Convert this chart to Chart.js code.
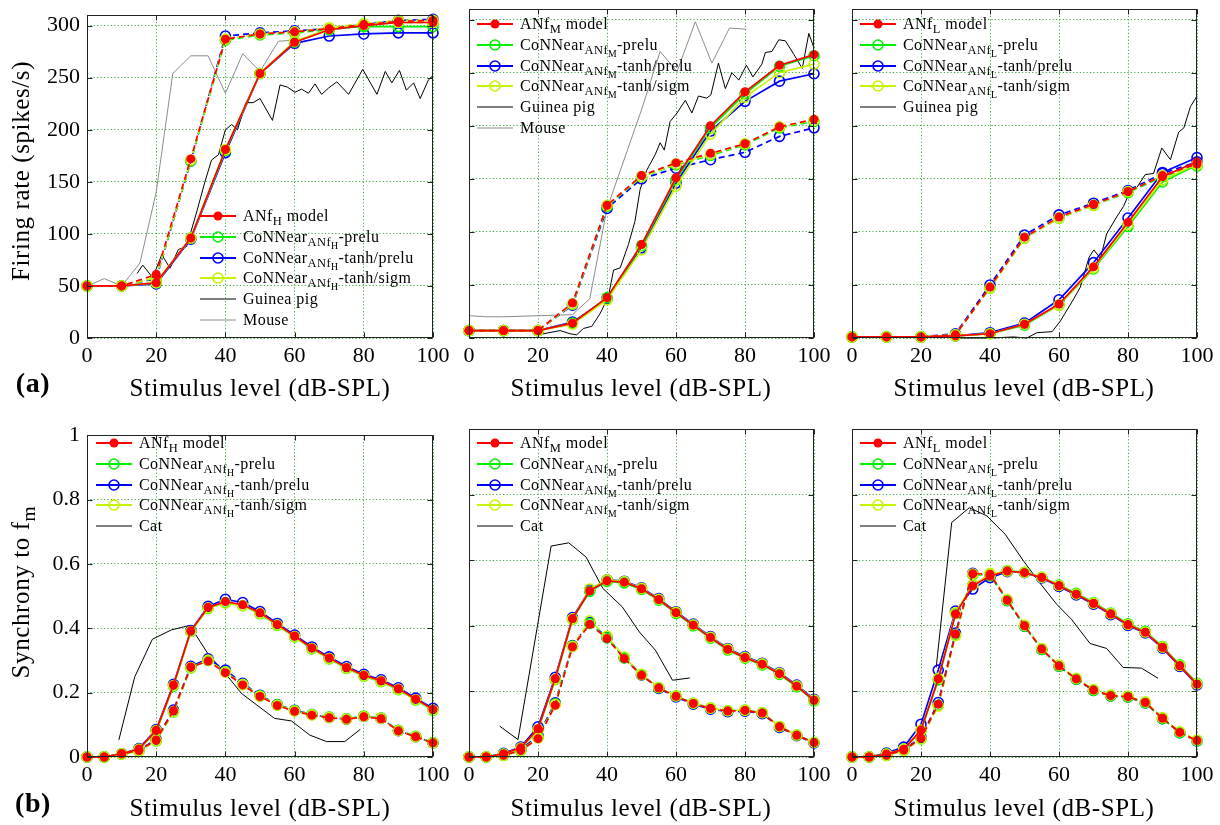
<!DOCTYPE html>
<html>
<head>
<meta charset="utf-8">
<script src="https://cdn.jsdelivr.net/npm/chart.js@4.4.0/dist/chart.umd.min.js"></script>
<style>
body { margin:0; width:1220px; height:825px; overflow:hidden; background:#fff; position:relative; font-family:'Liberation Serif', serif; color:#000; }
canvas { position:absolute; }
.t { position:absolute; white-space:nowrap; font-size:25px; letter-spacing:0.6px; }
.lg { position:absolute; font-size:16px; letter-spacing:0.45px; }
.lg div { height:20.8px; display:flex; align-items:center; white-space:nowrap; }
.lg svg { margin-right:7px; flex:none; }
sub { font-size:0.78em; vertical-align:-0.32em; line-height:0; }
</style>
</head>
<body>
<script>
// stimulus levels
const levelsRate = [0, 10, 20, 30, 40, 50, 60, 70, 80, 90, 100];
const levelsSync = [0, 5, 10, 15, 20, 25, 30, 35, 40, 45, 50, 55, 60, 65, 70, 75, 80, 85, 90, 95, 100];
const levelTicks = [0, 20, 40, 60, 80, 100];
const rateTicks = [0, 50, 100, 150, 200, 250, 300];
const syncTicks = [0, 0.2, 0.4, 0.6, 0.8, 1];

// (a) rate-level, ANfH  (solid / dashed)
const rateH_model = [50, 50, 53, 96, 181, 254, 284, 296, 300, 303, 303];
const rateH_prelu = [50, 50, 53, 96, 180, 254, 284, 297, 299, 299, 299];
const rateH_tanhPrelu = [50, 50, 52, 95, 178, 254, 283, 290, 292, 293, 293];
const rateH_tanhSigm = [50, 50, 53, 96, 181, 254, 285, 297, 301, 303, 303];
const rateH_model_d = [50, 50, 61, 172, 287, 292, 294, 297, 301, 304, 305];
const rateH_prelu_d = [50, 50, 58, 170, 286, 291, 293, 296, 300, 303, 303];
const rateH_tanhPrelu_d = [50, 50, 57, 170, 290, 293, 295, 297, 301, 305, 306];
const rateH_tanhSigm_d = [50, 50, 58, 171, 287, 292, 294, 298, 302, 305, 305];
const gpH_x = [14.5, 16.1, 19, 21.6, 24, 26.4, 28.8, 31.7, 34, 36, 38, 40, 41.8, 43.5, 45.9, 48, 50, 53.6, 55.8, 57.9, 60.1, 62, 64, 65.9, 67.8, 69.8, 72.2, 75.6, 79.7, 83.8, 86.2, 88.1, 90.3, 92.3, 94.4, 96.3, 98.7, 100];
const gpH_y = [62, 70, 58, 80, 67, 85, 88, 121, 149, 171, 176, 200, 205, 200, 226, 226, 230, 209, 243, 241, 236, 239, 235, 244, 234, 240, 246, 234, 258, 234, 256, 245, 257, 238, 245, 230, 248, 252];
const mouseH_x = [0, 5, 10, 15.3, 20, 24.8, 30, 35, 40, 45, 50, 55.3, 60];
const mouseH_y = [50, 57, 50, 72, 140, 254, 271, 271, 235, 273, 256, 285, 286];

// (a) rate-level, ANfM
const rateM_model = [7, 7, 7, 14, 38, 88, 151, 200, 232, 257, 267];
const rateM_prelu = [7, 7, 7, 14, 38, 87, 149, 198, 230, 256, 266];
const rateM_tanhPrelu = [7, 7, 7, 15, 37, 85, 146, 195, 223, 242, 249];
const rateM_tanhSigm = [7, 7, 7, 13, 36, 83, 143, 192, 227, 250, 258];
const rateM_model_d = [7, 7, 7, 33, 125, 153, 165, 174, 183, 199, 206];
const rateM_prelu_d = [7, 7, 7, 32, 124, 152, 163, 172, 182, 198, 204];
const rateM_tanhPrelu_d = [7, 7, 7, 31, 122, 150, 160, 168, 175, 190, 198];
const rateM_tanhSigm_d = [7, 7, 7, 32, 125, 152, 164, 173, 183, 199, 205];
const gpM_x = [20, 26.4, 29.3, 31.2, 33.2, 35.6, 38, 40.4, 41.9, 43.8, 46.2, 48.1, 49.6, 51.5, 54, 55.4, 56.6, 58.3, 60.3, 62.7, 64.6, 66.5, 68.9, 70.1, 72.3, 74.3, 76.2, 78.2, 80.4, 82.3, 84.9, 85.9, 87.8, 89.8, 91.7, 94.2, 96.6, 98.5, 100];
const gpM_y = [3, 7, 4, 3, 9, 11, 23, 39, 64, 66, 88, 110, 140, 158, 173, 184, 177, 204, 212, 224, 212, 228, 226, 229, 259, 235, 250, 243, 257, 246, 258, 269, 270, 281, 280, 267, 254, 287, 273];
const mouseM_x = [0, 5, 10, 20, 30, 35, 40, 50, 55.4, 60.3, 65.6, 70.4, 75.5, 80.4];
const mouseM_y = [21, 20, 20, 21, 22, 37, 122, 215, 270, 251, 298, 259, 292, 291];

// (a) rate-level, ANfL
const rateL_model = [1, 1, 1, 2, 4, 13, 32, 67, 109, 152, 166];
const rateL_prelu = [1, 1, 1, 2, 4, 12, 31, 65, 105, 147, 163];
const rateL_tanhPrelu = [1, 1, 1, 2, 5, 14, 36, 71, 113, 156, 170];
const rateL_tanhSigm = [1, 1, 1, 2, 4, 13, 31, 66, 107, 149, 164];
const rateL_model_d = [1, 1, 1, 3, 48, 95, 114, 126, 138, 153, 164];
const rateL_prelu_d = [1, 1, 1, 3, 47, 94, 113, 125, 137, 152, 162];
const rateL_tanhPrelu_d = [1, 1, 1, 4, 50, 97, 116, 127, 139, 155, 166];
const rateL_tanhSigm_d = [1, 1, 1, 3, 47, 94, 113, 125, 138, 153, 163];
const gpL_x = [30, 40, 46.8, 50.7, 53.6, 58, 60.4, 64.3, 66.2, 68.7, 70.1, 72, 73.8, 76.7, 78.7, 80.7, 82.6, 85, 87.4, 89.8, 92.3, 94.7, 96.2, 98.1, 100];
const gpL_y = [0, 0, 1, 0, 5, 6, 16, 37, 48, 76, 83, 75, 98, 114, 124, 139, 142, 154, 155, 179, 168, 194, 198, 218, 228];

// (b) synchrony, ANfH
const syncH_model = [0, 0, 0.01, 0.025, 0.083, 0.224, 0.392, 0.465, 0.483, 0.473, 0.448, 0.412, 0.376, 0.339, 0.308, 0.278, 0.254, 0.237, 0.212, 0.180, 0.148];
const syncH_prelu = [0, 0, 0.01, 0.024, 0.080, 0.220, 0.390, 0.462, 0.480, 0.470, 0.445, 0.409, 0.373, 0.336, 0.305, 0.275, 0.251, 0.234, 0.209, 0.177, 0.145];
const syncH_tanhPrelu = [0, 0, 0.01, 0.026, 0.085, 0.226, 0.393, 0.468, 0.490, 0.480, 0.452, 0.415, 0.379, 0.342, 0.311, 0.281, 0.257, 0.240, 0.215, 0.183, 0.151];
const syncH_tanhSigm = [0, 0, 0.01, 0.024, 0.082, 0.222, 0.390, 0.463, 0.478, 0.470, 0.446, 0.410, 0.374, 0.337, 0.306, 0.276, 0.252, 0.235, 0.210, 0.178, 0.146];
const syncH_model_d = [0, 0, 0.01, 0.020, 0.053, 0.144, 0.280, 0.298, 0.262, 0.224, 0.188, 0.160, 0.142, 0.130, 0.122, 0.117, 0.125, 0.119, 0.081, 0.063, 0.044];
const syncH_prelu_d = [0, 0, 0.009, 0.019, 0.050, 0.140, 0.277, 0.300, 0.265, 0.226, 0.190, 0.162, 0.144, 0.132, 0.124, 0.119, 0.127, 0.121, 0.083, 0.064, 0.045];
const syncH_tanhPrelu_d = [0, 0, 0.01, 0.021, 0.055, 0.146, 0.282, 0.305, 0.270, 0.229, 0.192, 0.163, 0.145, 0.132, 0.123, 0.118, 0.126, 0.120, 0.082, 0.063, 0.044];
const syncH_tanhSigm_d = [0, 0, 0.009, 0.019, 0.051, 0.141, 0.278, 0.301, 0.264, 0.225, 0.189, 0.161, 0.143, 0.131, 0.123, 0.118, 0.126, 0.120, 0.082, 0.063, 0.044];
const catH_x = [9.2, 13.8, 18.9, 24.4, 29.7, 35, 39.8, 44.6, 48.9, 54.2, 59.1, 64.4, 69.2, 74.5, 79];
const catH_y = [0.053, 0.249, 0.366, 0.395, 0.409, 0.32, 0.262, 0.198, 0.163, 0.12, 0.112, 0.068, 0.048, 0.048, 0.086];

// (b) synchrony, ANfM
const syncM_model = [0, 0, 0.01, 0.028, 0.086, 0.239, 0.422, 0.507, 0.537, 0.533, 0.513, 0.480, 0.440, 0.402, 0.364, 0.328, 0.303, 0.283, 0.254, 0.216, 0.173];
const syncM_prelu = [0, 0, 0.009, 0.026, 0.083, 0.236, 0.420, 0.505, 0.535, 0.531, 0.511, 0.478, 0.438, 0.400, 0.362, 0.326, 0.301, 0.281, 0.252, 0.214, 0.171];
const syncM_tanhPrelu = [0, 0, 0.011, 0.030, 0.092, 0.243, 0.425, 0.510, 0.540, 0.536, 0.516, 0.483, 0.443, 0.405, 0.367, 0.331, 0.306, 0.286, 0.257, 0.219, 0.176];
const syncM_tanhSigm = [0, 0, 0.009, 0.027, 0.084, 0.237, 0.421, 0.512, 0.540, 0.535, 0.514, 0.481, 0.441, 0.403, 0.365, 0.329, 0.304, 0.284, 0.255, 0.217, 0.174];
const syncM_model_d = [0, 0, 0.005, 0.020, 0.056, 0.158, 0.336, 0.405, 0.361, 0.300, 0.249, 0.210, 0.185, 0.163, 0.148, 0.140, 0.142, 0.134, 0.092, 0.066, 0.044];
const syncM_prelu_d = [0, 0, 0.005, 0.019, 0.060, 0.162, 0.338, 0.407, 0.363, 0.302, 0.251, 0.211, 0.186, 0.164, 0.149, 0.141, 0.143, 0.135, 0.093, 0.067, 0.045];
const syncM_tanhPrelu_d = [0, 0, 0.006, 0.021, 0.066, 0.165, 0.340, 0.410, 0.365, 0.303, 0.250, 0.209, 0.183, 0.161, 0.146, 0.138, 0.140, 0.132, 0.090, 0.065, 0.043];
const syncM_tanhSigm_d = [0, 0, 0.005, 0.020, 0.058, 0.160, 0.337, 0.415, 0.368, 0.305, 0.252, 0.212, 0.186, 0.164, 0.149, 0.141, 0.143, 0.135, 0.093, 0.067, 0.045];
const catM_x = [8.9, 14.2, 23.8, 28.9, 33.9, 38.8, 44.4, 49.4, 54, 59, 64];
const catM_y = [0.094, 0.053, 0.643, 0.653, 0.61, 0.514, 0.458, 0.381, 0.326, 0.234, 0.241];

// (b) synchrony, ANfL
const syncL_model = [0, 0, 0.009, 0.024, 0.082, 0.238, 0.436, 0.522, 0.552, 0.567, 0.562, 0.547, 0.522, 0.496, 0.468, 0.436, 0.403, 0.380, 0.334, 0.278, 0.222];
const syncL_prelu = [0, 0, 0.009, 0.024, 0.080, 0.235, 0.438, 0.525, 0.553, 0.568, 0.563, 0.548, 0.524, 0.499, 0.471, 0.439, 0.406, 0.383, 0.337, 0.281, 0.225];
const syncL_tanhPrelu = [0, 0, 0.012, 0.030, 0.100, 0.265, 0.445, 0.512, 0.547, 0.565, 0.562, 0.546, 0.520, 0.494, 0.466, 0.434, 0.401, 0.378, 0.332, 0.276, 0.220];
const syncL_tanhSigm = [0, 0, 0.009, 0.024, 0.082, 0.240, 0.440, 0.525, 0.556, 0.567, 0.563, 0.548, 0.523, 0.497, 0.469, 0.437, 0.404, 0.381, 0.335, 0.279, 0.223];
const syncL_model_d = [0, 0, 0.005, 0.021, 0.057, 0.161, 0.375, 0.559, 0.557, 0.478, 0.400, 0.329, 0.278, 0.238, 0.204, 0.187, 0.184, 0.166, 0.118, 0.075, 0.050];
const syncL_prelu_d = [0, 0, 0.005, 0.020, 0.055, 0.158, 0.372, 0.556, 0.555, 0.477, 0.399, 0.328, 0.277, 0.237, 0.203, 0.186, 0.183, 0.165, 0.117, 0.074, 0.049];
const syncL_tanhPrelu_d = [0, 0, 0.006, 0.022, 0.060, 0.166, 0.378, 0.560, 0.556, 0.477, 0.399, 0.328, 0.277, 0.237, 0.203, 0.186, 0.183, 0.165, 0.117, 0.074, 0.049];
const syncL_tanhSigm_d = [0, 0, 0.005, 0.020, 0.055, 0.155, 0.370, 0.558, 0.560, 0.480, 0.402, 0.331, 0.280, 0.240, 0.206, 0.189, 0.186, 0.168, 0.120, 0.077, 0.052];
const catL_x = [24.4, 28.9, 34, 39.1, 44.4, 49.7, 54.5, 59.3, 63.6, 69, 73.8, 78.6, 83.9, 88.7];
const catL_y = [0.273, 0.715, 0.76, 0.735, 0.679, 0.598, 0.53, 0.466, 0.42, 0.346, 0.331, 0.273, 0.271, 0.24];

// legend texts
const namesH = ['ANf<sub>H</sub> model', 'CoNNear<sub>ANf<sub>H</sub></sub>-prelu', 'CoNNear<sub>ANf<sub>H</sub></sub>-tanh/prelu', 'CoNNear<sub>ANf<sub>H</sub></sub>-tanh/sigm'];
const namesM = ['ANf<sub>M</sub> model', 'CoNNear<sub>ANf<sub>M</sub></sub>-prelu', 'CoNNear<sub>ANf<sub>M</sub></sub>-tanh/prelu', 'CoNNear<sub>ANf<sub>M</sub></sub>-tanh/sigm'];
const namesL = ['ANf<sub>L</sub> model', 'CoNNear<sub>ANf<sub>L</sub></sub>-prelu', 'CoNNear<sub>ANf<sub>L</sub></sub>-tanh/prelu', 'CoNNear<sub>ANf<sub>L</sub></sub>-tanh/sigm'];

const RED = '#ff0000', GREEN = '#00f000', BLUE = '#0000ff', LIME = '#c4f500';
const GRIDC = 'rgb(70,170,70)';
const GRAY = '#8c8c8c';

function pts(xs, ys) {
    return xs.map((x, i) => ({ x: x, y: ys[i] }));
}

function modelLine(xs, ys, color, dashed, filled) {
    return {
        data: pts(xs, ys),
        borderColor: color,
        borderWidth: 1.7,
        borderDash: dashed ? [6, 4] : [],
        pointRadius: filled ? 4.5 : 5,
        pointBorderWidth: filled ? 0 : 1.6,
        pointBorderColor: color,
        pointBackgroundColor: filled ? color : 'rgba(0,0,0,0)',
        clip: false
    };
}

function refLine(xs, ys, color) {
    return { data: pts(xs, ys), borderColor: color, borderWidth: 1, pointRadius: 0, clip: false };
}

// frame + inner tick marks
const framePlugin = {
    id: 'frame',
    afterDraw(c) {
        const a = c.chartArea, ctx = c.ctx;
        const l = Math.round(a.left) + 0.5, r = Math.round(a.right) - 0.5;
        const t = Math.round(a.top) + 0.5, b = Math.round(a.bottom) - 0.5;
        ctx.save();
        ctx.strokeStyle = '#222';
        ctx.lineWidth = 1;
        ctx.strokeRect(l, t, r - l, b - t);
        ctx.beginPath();
        c.scales.x.ticks.forEach(tk => {
            const x = Math.round(c.scales.x.getPixelForValue(tk.value)) + 0.5;
            ctx.moveTo(x, b); ctx.lineTo(x, b - 5);
            ctx.moveTo(x, t); ctx.lineTo(x, t + 5);
        });
        c.scales.y.ticks.forEach(tk => {
            const y = Math.round(c.scales.y.getPixelForValue(tk.value)) + 0.5;
            ctx.moveTo(l, y); ctx.lineTo(l + 5, y);
            ctx.moveTo(r, y); ctx.lineTo(r - 5, y);
        });
        ctx.stroke();
        ctx.restore();
    }
};

function makePanel(box, yMax, yTicks, showY, datasets) {
    const L = showY ? 70 : 20, T = 14, R = 22, B = 40;
    const w = box.r - box.l + L + R, h = box.b - box.t + T + B;
    const cv = document.createElement('canvas');
    cv.width = w; cv.height = h;
    cv.style.width = w + 'px'; cv.style.height = h + 'px';
    cv.style.left = (box.l - L) + 'px'; cv.style.top = (box.t - T) + 'px';
    document.body.appendChild(cv);
    const tickFont = { family: "'Liberation Serif', serif", size: 22 };
    new Chart(cv, {
        type: 'line',
        data: { datasets: datasets },
        options: {
            responsive: false,
            animation: false,
            events: [],
            layout: { padding: { left: 0, top: T, right: R, bottom: 0 } },
            plugins: { legend: { display: false }, tooltip: { enabled: false } },
            elements: { line: { tension: 0 } },
            scales: {
                x: {
                    type: 'linear', min: 0, max: 100,
                    afterFit(s) { s.height = B; },
                    afterBuildTicks(s) { s.ticks = levelTicks.map(v => ({ value: v })); },
                    grid: { color: GRIDC, drawTicks: false, lineWidth: 1 },
                    border: { display: false, dash: [1.2, 2.2] },
                    ticks: { padding: 5, color: '#000', font: tickFont, maxRotation: 0, callback: v => String(v) }
                },
                y: {
                    type: 'linear', min: 0, max: yMax,
                    afterFit(s) { s.width = L; },
                    afterBuildTicks(s) { s.ticks = yTicks.map(v => ({ value: v })); },
                    grid: { color: GRIDC, drawTicks: false, lineWidth: 1 },
                    border: { display: false, dash: [1.2, 2.2] },
                    ticks: { display: showY, padding: 7, color: '#000', font: tickFont, callback: v => String(v) }
                }
            }
        },
        plugins: [framePlugin]
    });
}

function legend(x, y, names, refs) {
    const d = document.createElement('div');
    d.className = 'lg';
    d.style.left = x + 'px';
    d.style.top = y + 'px';
    const cols = [RED, GREEN, BLUE, LIME];
    let html = '';
    names.forEach((n, i) => {
        const mk = i === 0
            ? `<circle cx="18" cy="7" r="4.5" fill="${RED}"/>`
            : `<circle cx="18" cy="7" r="5" fill="none" stroke="${cols[i]}" stroke-width="1.6"/>`;
        html += `<div><svg width="36" height="14"><line x1="0" y1="7" x2="36" y2="7" stroke="${cols[i]}" stroke-width="1.8"/>${mk}</svg><span>${n}</span></div>`;
    });
    refs.forEach(r => {
        html += `<div><svg width="36" height="14"><line x1="0" y1="7" x2="36" y2="7" stroke="${r[1]}" stroke-width="1"/></svg><span>${r[0]}</span></div>`;
    });
    d.innerHTML = html;
    document.body.appendChild(d);
}

function text(html, x, y, extra) {
    const d = document.createElement('div');
    d.className = 't';
    d.innerHTML = html;
    d.style.left = x + 'px';
    d.style.top = y + 'px';
    d.style.transform = 'translate(-50%,-50%)' + (extra || '');
    document.body.appendChild(d);
    return d;
}

function modelSets(xs, s, d) {
    // s, d = [model, prelu, tanhPrelu, tanhSigm]
    return [
        modelLine(xs, s[0], RED, false, true),
        modelLine(xs, d[0], RED, true, true),
        modelLine(xs, s[3], LIME, false, false),
        modelLine(xs, d[3], LIME, true, false),
        modelLine(xs, s[1], GREEN, false, false),
        modelLine(xs, d[1], GREEN, true, false),
        modelLine(xs, s[2], BLUE, false, false),
        modelLine(xs, d[2], BLUE, true, false)
    ];
}

makePanel({ l: 87, t: 9, r: 433, b: 338 }, 310, rateTicks, true,
    modelSets(levelsRate, [rateH_model, rateH_prelu, rateH_tanhPrelu, rateH_tanhSigm],
        [rateH_model_d, rateH_prelu_d, rateH_tanhPrelu_d, rateH_tanhSigm_d])
        .concat([refLine(gpH_x, gpH_y, '#000'), refLine(mouseH_x, mouseH_y, GRAY)]));
makePanel({ l: 469, t: 9, r: 814, b: 338 }, 310, rateTicks, false,
    modelSets(levelsRate, [rateM_model, rateM_prelu, rateM_tanhPrelu, rateM_tanhSigm],
        [rateM_model_d, rateM_prelu_d, rateM_tanhPrelu_d, rateM_tanhSigm_d])
        .concat([refLine(gpM_x, gpM_y, '#000'), refLine(mouseM_x, mouseM_y, GRAY)]));
makePanel({ l: 852, t: 9, r: 1197, b: 338 }, 310, rateTicks, false,
    modelSets(levelsRate, [rateL_model, rateL_prelu, rateL_tanhPrelu, rateL_tanhSigm],
        [rateL_model_d, rateL_prelu_d, rateL_tanhPrelu_d, rateL_tanhSigm_d])
        .concat([refLine(gpL_x, gpL_y, '#000')]));
makePanel({ l: 87, t: 429, r: 433, b: 757 }, 1, syncTicks, true,
    modelSets(levelsSync, [syncH_model, syncH_prelu, syncH_tanhPrelu, syncH_tanhSigm],
        [syncH_model_d, syncH_prelu_d, syncH_tanhPrelu_d, syncH_tanhSigm_d])
        .concat([refLine(catH_x, catH_y, '#000')]));
makePanel({ l: 469, t: 429, r: 814, b: 757 }, 1, syncTicks, false,
    modelSets(levelsSync, [syncM_model, syncM_prelu, syncM_tanhPrelu, syncM_tanhSigm],
        [syncM_model_d, syncM_prelu_d, syncM_tanhPrelu_d, syncM_tanhSigm_d])
        .concat([refLine(catM_x, catM_y, '#000')]));
makePanel({ l: 852, t: 429, r: 1197, b: 757 }, 1, syncTicks, false,
    modelSets(levelsSync, [syncL_model, syncL_prelu, syncL_tanhPrelu, syncL_tanhSigm],
        [syncL_model_d, syncL_prelu_d, syncL_tanhPrelu_d, syncL_tanhSigm_d])
        .concat([refLine(catL_x, catL_y, '#000')]));

legend(200, 205.6, namesH, [['Guinea pig', '#000'], ['Mouse', GRAY]]);
legend(477, 13.6, namesM, [['Guinea pig', '#000'], ['Mouse', GRAY]]);
legend(860, 13.6, namesL, [['Guinea pig', '#000']]);
legend(96, 432.6, namesH, [['Cat', '#000']]);
legend(477, 432.6, namesM, [['Cat', '#000']]);
legend(860, 432.6, namesL, [['Cat', '#000']]);

[260, 641, 1024].forEach(cx => {
    text('Stimulus level (dB-SPL)', cx, 388);
    text('Stimulus level (dB-SPL)', cx, 808);
});
text('Firing rate (spikes/s)', 21, 171, ' rotate(-90deg)');
text('Synchrony to f<sub>m</sub>', 21, 592, ' rotate(-90deg)');
const a = text('(a)', 33, 383); a.style.fontWeight = 'bold'; a.style.fontSize = '28px';
const b = text('(b)', 33, 803); b.style.fontWeight = 'bold'; b.style.fontSize = '28px';
</script>
</body>
</html>
